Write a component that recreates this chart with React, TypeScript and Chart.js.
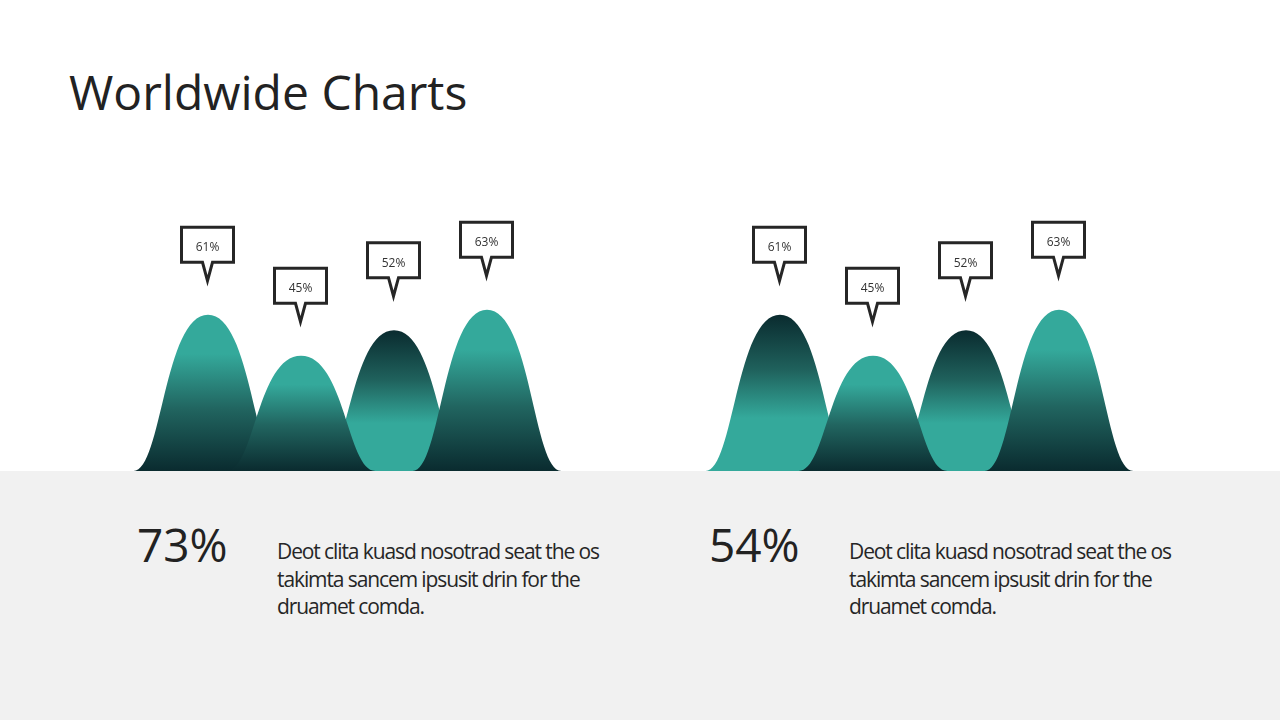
import React, { useEffect, useRef } from "react";
import { Chart, registerables } from "chart.js";

Chart.register(...registerables);

// ---- data ----
const categories = ["Peak 1", "Peak 2", "Peak 3", "Peak 4"];
// peak heights (percent scale)
const leftValues = [61, 45, 55, 63];
const rightValues = [61, 45, 55, 63];
const leftLabels = ["61%", "45%", "52%", "63%"];
const rightLabels = ["61%", "45%", "52%", "63%"];
const leftTealTop = [true, true, false, true];
const rightTealTop = [false, true, false, true];
const summaryValues = ["73%", "54%"];
const descriptionLines = [
  "Deot clita kuasd nosotrad seat the os",
  "takimta sancem ipsusit drin for the",
  "druamet comda.",
];
const titleText = "Worldwide Charts";

const TEAL = "#34a99b";
const DARK = "#0a2b2f";
const drawOrder = [0, 2, 1, 3];

const bellPlugin = {
  id: "bells",
  afterDatasetsDraw(chart: any, _args: any, opts: any) {
    const ctx: CanvasRenderingContext2D = chart.ctx;
    const meta = chart.getDatasetMeta(0);
    const tealTop: boolean[] = opts.tealTop;
    const labels: string[] = opts.labels;
    ctx.save();
    for (const i of drawOrder) {
      const el = meta.data[i];
      const { x, y, base, width } = el.getProps(["x", "y", "base", "width"], true);
      const hw = width * 0.8;
      const g = ctx.createLinearGradient(0, y, 0, base);
      if (tealTop[i]) {
        g.addColorStop(0, TEAL);
        g.addColorStop(0.25, TEAL);
        g.addColorStop(0.6, "#216560");
        g.addColorStop(1, DARK);
      } else {
        g.addColorStop(0, DARK);
        g.addColorStop(0.35, "#1f615c");
        g.addColorStop(0.66, TEAL);
        g.addColorStop(1, TEAL);
      }
      ctx.beginPath();
      ctx.moveTo(x - hw, base);
      ctx.bezierCurveTo(x - hw * 0.62, base, x - hw * 0.59, y, x, y);
      ctx.bezierCurveTo(x + hw * 0.59, y, x + hw * 0.62, base, x + hw, base);
      ctx.closePath();
      ctx.fillStyle = g;
      ctx.fill();
    }
    // callouts
    for (let i = 0; i < meta.data.length; i++) {
      const el = meta.data[i];
      const { x, y } = el.getProps(["x", "y"], true);
      const cx = x - 0.5;
      const left = cx - 26;
      const right = cx + 26;
      const top = y - 87.5;
      const bottom = y - 52.5;
      const tip = y - 34;
      ctx.beginPath();
      ctx.moveTo(left, top);
      ctx.lineTo(right, top);
      ctx.lineTo(right, bottom);
      ctx.lineTo(cx + 5, bottom);
      ctx.lineTo(cx, tip);
      ctx.lineTo(cx - 5, bottom);
      ctx.lineTo(left, bottom);
      ctx.closePath();
      ctx.fillStyle = "#ffffff";
      ctx.fill();
      ctx.lineWidth = 3;
      ctx.lineJoin = "miter";
      ctx.miterLimit = 10;
      ctx.strokeStyle = "#262626";
      ctx.stroke();
      ctx.fillStyle = "#333333";
      ctx.font = "12px 'Open Sans'";
      ctx.textAlign = "center";
      ctx.textBaseline = "middle";
      ctx.fillText(labels[i], cx, (top + bottom) / 2 + 3);
    }
    ctx.restore();
  },
};

function PeakChart(props: { values: number[]; labels: string[]; tealTop: boolean[]; left: number }) {
  const ref = useRef<HTMLCanvasElement>(null);
  useEffect(() => {
    const chart = new Chart(ref.current as HTMLCanvasElement, {
      type: "bar",
      data: {
        labels: categories,
        datasets: [
          {
            data: props.values,
            backgroundColor: "rgba(0,0,0,0)",
            borderWidth: 0,
            categoryPercentage: 1,
            barPercentage: 1,
          },
        ],
      },
      options: {
        animation: false,
        responsive: false,
        maintainAspectRatio: false,
        events: [],
        layout: { padding: { left: 51.5, right: 56.5, top: 15, bottom: 0 } },
        scales: {
          x: { display: false },
          y: { display: false, min: 0, max: 100 },
        },
        plugins: {
          legend: { display: false },
          tooltip: { enabled: false },
          bells: { tealTop: props.tealTop, labels: props.labels },
        } as any,
      },
      plugins: [bellPlugin],
    });
    return () => chart.destroy();
  }, []);
  return (
    <canvas
      ref={ref}
      width={480}
      height={271}
      style={{ position: "absolute", left: props.left, top: 200, width: 480, height: 271 }}
    />
  );
}

function Summary(props: { value: string; left: number }) {
  return (
    <>
      <div
        style={{
          position: "absolute",
          left: props.left,
          top: 521,
          fontSize: 46,
          lineHeight: "46px",
          color: "#222",
          whiteSpace: "nowrap",
        }}
      >
        {props.value}
      </div>
      <div
        style={{
          position: "absolute",
          left: props.left + 140,
          top: 538,
          fontSize: 21,
          lineHeight: "27.5px",
          letterSpacing: "-1.1px",
          color: "#262626",
          whiteSpace: "nowrap",
        }}
      >
        {descriptionLines.map((l, i) => (
          <div key={i}>{l}</div>
        ))}
      </div>
    </>
  );
}

export default function App() {
  return (
    <div
      style={{
        position: "absolute",
        left: 0,
        top: 0,
        width: 1280,
        height: 720,
        background: "#ffffff",
        overflow: "hidden",
        fontFamily: "'Open Sans', sans-serif",
      }}
    >
      <div
        style={{
          position: "absolute",
          left: 0,
          top: 471,
          width: 1280,
          height: 249,
          background: "#f1f1f1",
        }}
      />
      <div
        style={{
          position: "absolute",
          left: 69,
          top: 68,
          fontSize: 48,
          lineHeight: "48px",
          color: "#222",
          whiteSpace: "nowrap",
        }}
      >
        {titleText}
      </div>
      <PeakChart values={leftValues} labels={leftLabels} tealTop={leftTealTop} left={110} />
      <PeakChart values={rightValues} labels={rightLabels} tealTop={rightTealTop} left={682} />
      <Summary value={summaryValues[0]} left={137} />
      <Summary value={summaryValues[1]} left={709} />
    </div>
  );
}
